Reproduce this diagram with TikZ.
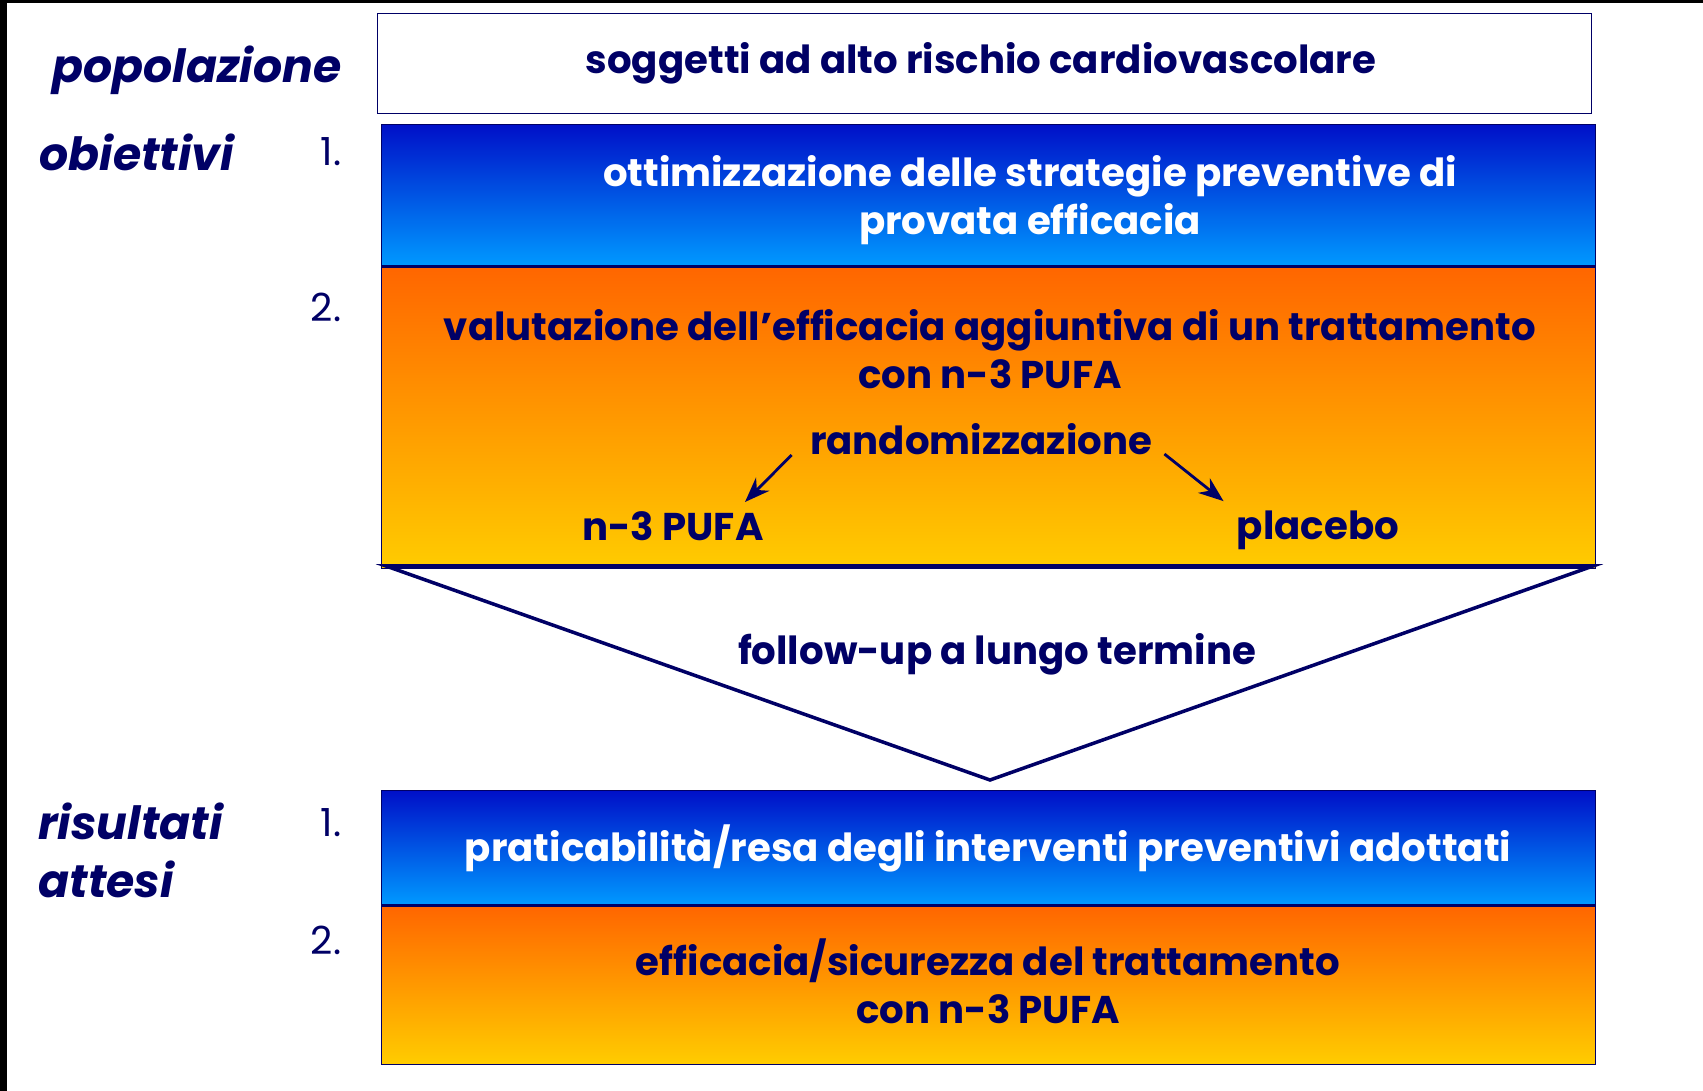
\documentclass[tikz,border=0pt]{standalone}
\usepackage{fontspec}
\setmainfont{Poppins}
\usepackage{tikz}
\usetikzlibrary{arrows.meta,positioning}
\definecolor{navy}{RGB}{0,0,102}
\definecolor{bluetop}{RGB}{0,16,200}
\definecolor{bluebot}{RGB}{0,153,255}
\definecolor{orangetop}{RGB}{255,102,0}
\definecolor{orangebot}{RGB}{255,204,0}

\begin{document}
\begin{tikzpicture}[x=0.01cm,y=-0.01cm,
      lbl/.style={text=navy,font=\fontsize{13}{16.5}\selectfont\bfseries\itshape,anchor=west,align=left},
      num/.style={text=navy,font=\fontsize{11}{13}\selectfont},
      txt/.style={text=navy,font=\fontsize{11}{13.6}\selectfont\bfseries,align=center},
      wtxt/.style={txt,text=white},
      band/.style={draw=navy,minimum width=12.13cm,inner sep=0pt},
      bluebox/.style={band,top color=bluetop,bottom color=bluebot},
      orangebox/.style={band,top color=orangetop,bottom color=orangebot},
      >={Stealth[length=2.5mm]}
    ]
      \useasboundingbox (0,0) rectangle (1703,1091);
      \fill[black] (0,0) rectangle (7,1091);
      \fill[black] (0,0) rectangle (1703,3);

      % population
      \node[band,fill=white,minimum height=1.00cm,anchor=north west] (popbox) at (377,13) {};
      \node[txt] (pop) at (981,63) {soggetti ad alto rischio cardiovascolare};
      \node[lbl] (poplbl) at (40,70) {popolazione};

      % objectives
      \node[bluebox,minimum height=1.41cm,anchor=north west] (obj1) at (381,124) {};
      \node[orangebox,minimum height=3.01cm,below=0pt of obj1] (obj2) {};
      \node[lbl] (objlbl) at (27,152) {obiettivi};
      \node[num] (n1) at (331,152) {1.};
      \node[num] (n2) at (326,307) {2.};
      \node[wtxt] (opt) at (1030,200) {ottimizzazione delle strategie preventive di\\provata efficacia};
      \node[txt] (val) at (990,349) {valutazione dell'efficacia aggiuntiva di un trattamento\\con n-3 PUFA};
      \node[txt] (rand) at (981,439) {randomizzazione};
      \node[txt] (pufa) at (673,526) {n-3 PUFA};
      \node[txt] (plac) at (1318,530) {placebo};
      \draw[->,navy,thick] ([shift={(-6,16)}]rand.west) -- ([shift={(72,3)}]pufa.north);
      \draw[->,navy,thick] ([shift={(0,15)}]rand.east) -- ([shift={(-1,3)}]plac.north west);

      % follow-up
      \draw[navy,line width=1pt] (386,566) -- (1593,566) -- (990,780) -- cycle;
      \node[txt] (fup) at (997,654) {follow-up a lungo termine};

      % expected results
      \node[bluebox,minimum height=1.14cm,anchor=north west] (res1) at (381,790) {};
      \node[orangebox,minimum height=1.58cm,below=0pt of res1] (res2) {};
      \node[lbl] (reslbl) at (26,850) {risultati\\attesi};
      \node[num] (m1) at (331,823) {1.};
      \node[num] (m2) at (326,940) {2.};
      \node[wtxt] (prat) at (988,848) {praticabilità/resa degli interventi preventivi adottati};
      \node[txt] (eff) at (988,981) {efficacia/sicurezza del trattamento\\con n-3 PUFA};
    \end{tikzpicture}
\end{document}
